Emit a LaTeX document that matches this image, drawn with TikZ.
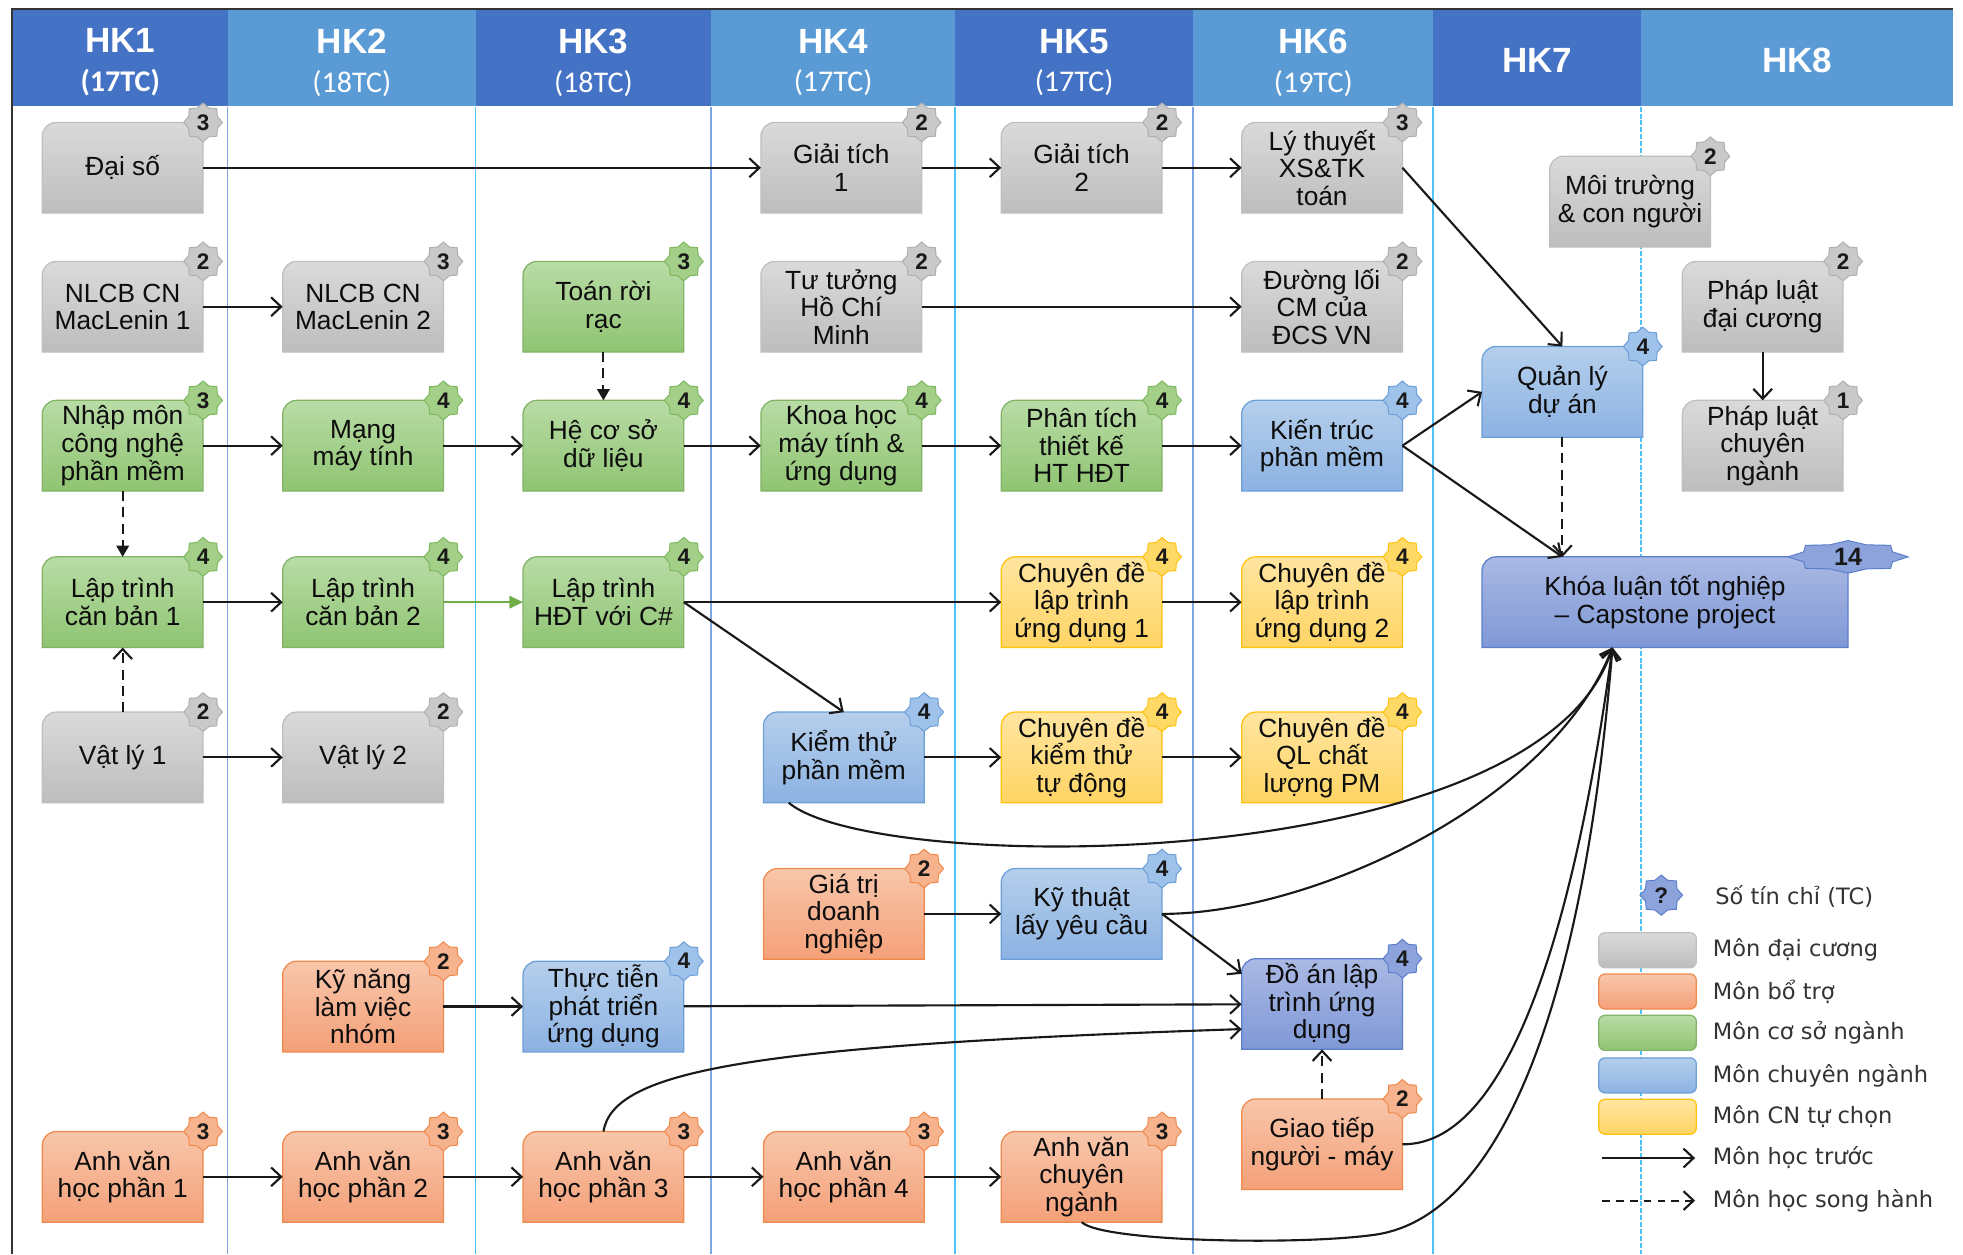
\documentclass[tikz,border=0pt]{standalone}
\usepackage{fontspec}
\setmainfont{Liberation Sans}
\newfontfamily\legfont{DejaVu Sans}
\newfontfamily\calfont{Carlito}
\usetikzlibrary{arrows.meta,calc}
\pgfdeclarelayer{bg}
\pgfsetlayers{bg,main}

\definecolor{hdark}{HTML}{4472C4}
\definecolor{hlight}{HTML}{5B9BD5}
\definecolor{lnblue}{HTML}{7EA6E0}
\definecolor{lncyan}{HTML}{4FC3F7}
\definecolor{gtop}{HTML}{DADADA}\definecolor{gbot}{HTML}{BDBDBD}\definecolor{gline}{HTML}{BFBFBF}
\definecolor{ntop}{HTML}{B9DCA6}\definecolor{nbot}{HTML}{8FC472}\definecolor{nline}{HTML}{82B366}
\definecolor{btop}{HTML}{B5CFEC}\definecolor{bbot}{HTML}{8CB2E2}\definecolor{bline}{HTML}{6C9FD8}
\definecolor{ytop}{HTML}{FFE5A0}\definecolor{ybot}{HTML}{FFD464}\definecolor{yline}{HTML}{FFC20E}
\definecolor{otop}{HTML}{F8C6AB}\definecolor{obot}{HTML}{F4A078}\definecolor{oline}{HTML}{EF8A4C}
\definecolor{ptop}{HTML}{AAB9E4}\definecolor{pbot}{HTML}{7F98D6}\definecolor{pline}{HTML}{5B7FCB}
\definecolor{gbad}{HTML}{C9C9C9}\definecolor{gbadl}{HTML}{B0B0B0}
\definecolor{nbad}{HTML}{A3CF88}\definecolor{nbadl}{HTML}{7DB85E}
\definecolor{bbad}{HTML}{9EC2EA}\definecolor{bbadl}{HTML}{6C9FD8}
\definecolor{ybad}{HTML}{FFD966}\definecolor{ybadl}{HTML}{FFC20E}
\definecolor{obad}{HTML}{F6B38E}\definecolor{obadl}{HTML}{EF8A4C}
\definecolor{pbad}{HTML}{8DA3DC}\definecolor{pbadl}{HTML}{5B7FCB}
\definecolor{greenarrow}{HTML}{70AD47}

\tikzset{
 course/.style={minimum width=128pt, minimum height=72pt, inner sep=0pt, align=center, text=black!95, font=\fontsize{21}{22}\selectfont},
 fgray/.style={top color=gtop, bottom color=gbot, draw=gline, line width=1pt},
 fgreen/.style={top color=ntop, bottom color=nbot, draw=nline, line width=1pt},
 fblue/.style={top color=btop, bottom color=bbot, draw=bline, line width=1pt},
 fyellow/.style={top color=ytop, bottom color=ybot, draw=yline, line width=1pt},
 forange/.style={top color=otop, bottom color=obot, draw=oline, line width=1pt},
 fpurple/.style={top color=ptop, bottom color=pbot, draw=pline, line width=1pt},
 bgray/.style={fill=gbad, draw=gbadl, line width=0.8pt},
 bgreen/.style={fill=nbad, draw=nbadl, line width=0.8pt},
 bblue/.style={fill=bbad, draw=bbadl, line width=0.8pt},
 byellow/.style={fill=ybad, draw=ybadl, line width=0.8pt},
 borange/.style={fill=obad, draw=obadl, line width=0.8pt},
 bpurple/.style={fill=pbad, draw=pbadl, line width=0.8pt},
 badgetext/.style={inner sep=0pt, font=\fontsize{18}{18}\selectfont\bfseries, text=black!90},
 hdr/.style={minimum height=77pt, inner sep=0pt, align=center, text=white, font=\fontsize{24}{31}\selectfont},
 prereq/.style={draw=black!90, line width=1.7pt, -{Straight Barb[length=8pt,width=15pt]}},
 coreq/.style={prereq, dash pattern=on 8pt off 5pt},
 coreqf/.style={draw=black!90, line width=1.7pt, dash pattern=on 8pt off 5pt, -{Triangle[length=9pt,width=10pt]}},
 greenpre/.style={draw=greenarrow, line width=1.5pt, -{Triangle[length=11pt,width=10pt]}},
 colline/.style={line width=1.2pt},
 legbox/.style={minimum width=78pt, minimum height=28pt, inner sep=0pt, rounded corners=5pt},
 legtext/.style={anchor=west, inner sep=0pt, font=\legfont\fontsize{18}{20}\selectfont, text=black!80},
}

\newcommand\hkA[1]{{\fontsize{28}{30}\selectfont\bfseries #1}}
\newcommand\hkB[1]{{\calfont #1}}

\newcommand\cshape[2]{\path[#2] (#1.south west) -- ([yshift=-11pt]#1.north west) .. controls ([yshift=-5pt]#1.north west) and ([xshift=5pt]#1.north west) .. ([xshift=11pt]#1.north west) -- (#1.north east) -- (#1.south east) -- cycle;}

\newcommand\starbadge[6]{%
 \path[#5, shift={(#2)}] (#3,0) \foreach \k in {1,...,15}{ -- ({cos(22.5*\k)*(1-0.2*mod(\k,2))*#3},{sin(22.5*\k)*(1-0.2*mod(\k,2))*#4}) } -- cycle;
 \node[badgetext] (#1) at (#2) {#6};}

\newcommand\course[6]{%
 \node[course] (#1) at (#2,#3) {#6};
 \begin{pgfonlayer}{bg}\cshape{#1}{f#4}\end{pgfonlayer}
 \starbadge{#1b}{#1.north east}{15.5}{15.5}{b#4}{#5}}

\begin{document}
\begin{tikzpicture}[x=1pt,y=-1pt]
\useasboundingbox (0,0) rectangle (1568,1002);
\coordinate (bot) at (0,1002);

% header
\begin{pgfonlayer}{bg}
\node[hdr, fill=hdark, minimum width=172pt] (h1) at (96,46.5) {};
\node[hdr, fill=hlight, minimum width=198pt] (h2) at (281,46.5) {};
\node[hdr, fill=hdark, minimum width=188pt] (h3) at (474,46.5) {};
\node[hdr, fill=hlight, minimum width=195pt] (h4) at (665.5,46.5) {};
\node[hdr, fill=hdark, minimum width=190pt] (h5) at (858,46.5) {};
\node[hdr, fill=hlight, minimum width=192pt] (h6) at (1049,46.5) {};
\node[hdr, fill=hdark, minimum width=166pt] (h7) at (1228,46.5) {};
\node[hdr, fill=hlight, minimum width=249pt] (h8) at (1435.5,46.5) {};
\foreach \h/\c in {h2/lnblue, h3/lncyan, h4/lnblue, h5/lncyan, h6/lnblue, h7/lncyan}
  \draw[colline, \c] (\h.south west) -- (\h.south west |- bot);
\draw[colline, lncyan, dash pattern=on 4pt off 1.5pt] (h8.south west) -- (h8.south west |- bot);
\draw[line width=1.6pt, black!80] (h1.south west |- bot) -- ([yshift=1pt]h1.north west) -- ([yshift=1pt]h8.north east);
\end{pgfonlayer}
\node[hdr] (t1) at (96,50) {\hkA{HK1}\\\hkB{\bfseries (17TC)}};
\node[hdr] (t2) at (281,50) {\hkA{HK2}\\\hkB{(18TC)}};
\node[hdr] (t3) at (474,50) {\hkA{HK3}\\\hkB{(18TC)}};
\node[hdr] (t4) at (665.5,50) {\hkA{HK4}\\\hkB{(17TC)}};
\node[hdr] (t5) at (858,50) {\hkA{HK5}\\\hkB{(17TC)}};
\node[hdr] (t6) at (1049,50) {\hkA{HK6}\\\hkB{(19TC)}};
\node[hdr] (t7) at (1228,48) {\hkA{HK7}};
\node[hdr] (t8) at (1435.5,48) {\hkA{HK8}};

% courses
\course{ds}{98}{134}{gray}{3}{Đại số}
\course{gtich1}{672}{134}{gray}{2}{Giải tích\\1}
\course{gtich2}{864}{134}{gray}{2}{Giải tích\\2}
\course{lyt}{1056}{134}{gray}{3}{Lý thuyết\\XS\&TK\\toán}
\course{mtcn}{1302}{161}{gray}{2}{Môi trường\\\& con người}
\course{nl1}{98}{245}{gray}{2}{NLCB CN\\MacLenin 1}
\course{nl2}{290}{245}{gray}{3}{NLCB CN\\MacLenin 2}
\course{trr}{482}{245}{green}{3}{Toán rời\\rạc}
\course{hcm}{672}{245}{gray}{2}{Tư tưởng\\Hồ Chí\\Minh}
\course{dl}{1056}{245}{gray}{2}{Đường lối\\CM của\\ĐCS VN}
\course{pldc}{1408}{245}{gray}{2}{Pháp luật\\đại cương}
\course{nm}{98}{356}{green}{3}{Nhập môn\\công nghệ\\phần mềm}
\course{mmt}{290}{356}{green}{4}{Mạng\\máy tính}
\course{csdl}{482}{356}{green}{4}{Hệ cơ sở\\dữ liệu}
\course{khmt}{672}{356}{green}{4}{Khoa học\\máy tính \&\\ứng dụng}
\course{pttk}{864}{356}{green}{4}{Phân tích\\thiết kế\\HT HĐT}
\course{ktpm}{1056}{356}{blue}{4}{Kiến trúc\\phần mềm}
\course{qlda}{1248}{313}{blue}{4}{Quản lý\\dự án}
\course{plcn}{1408}{356}{gray}{1}{Pháp luật\\chuyên\\ngành}
\course{lcb1}{98}{481}{green}{4}{Lập trình\\căn bản 1}
\course{lcb2}{290}{481}{green}{4}{Lập trình\\căn bản 2}
\course{hdt}{482}{481}{green}{4}{Lập trình\\HĐT với C\#}
\course{cd1}{864}{481}{yellow}{4}{Chuyên đề\\lập trình\\ứng dụng 1}
\course{cd2}{1056}{481}{yellow}{4}{Chuyên đề\\lập trình\\ứng dụng 2}
\course{vl1}{98}{605}{gray}{2}{Vật lý 1}
\course{vl2}{290}{605}{gray}{2}{Vật lý 2}
\course{kt}{674}{605}{blue}{4}{Kiểm thử\\phần mềm}
\course{cdkt}{864}{605}{yellow}{4}{Chuyên đề\\kiểm thử\\tự động}
\course{cdql}{1056}{605}{yellow}{4}{Chuyên đề\\QL chất\\lượng PM}
\course{gtdn}{674}{730}{orange}{2}{Giá trị\\doanh\\nghiệp}
\course{ktyc}{864}{730}{blue}{4}{Kỹ thuật\\lấy yêu cầu}
\course{knlv}{290}{804}{orange}{2}{Kỹ năng\\làm việc\\nhóm}
\course{tt}{482}{804}{blue}{4}{Thực tiễn\\phát triển\\ứng dụng}
\course{da}{1056}{802}{purple}{4}{Đồ án lập\\trình ứng\\dụng}
\course{gtnm}{1056}{914}{orange}{2}{Giao tiếp\\người - máy}
\course{av1}{98}{940}{orange}{3}{Anh văn\\học phần 1}
\course{av2}{290}{940}{orange}{3}{Anh văn\\học phần 2}
\course{av3}{482}{940}{orange}{3}{Anh văn\\học phần 3}
\course{av4}{674}{940}{orange}{3}{Anh văn\\học phần 4}
\course{avcn}{864}{940}{orange}{3}{Anh văn\\chuyên\\ngành}

% capstone
\node[course, minimum width=292pt] (kl) at (1330,481) {Khóa luận tốt nghiệp\\– Capstone project};
\begin{pgfonlayer}{bg}\cshape{kl}{fpurple}\end{pgfonlayer}
\starbadge{klb}{kl.north east}{48}{13}{bpurple}{\fontsize{20}{20}\selectfont 14}
\coordinate (klTop) at ([xshift=-82pt]kl.north);
\coordinate (klIn) at ([xshift=-42pt]kl.south);

% straight prerequisites
\foreach \a/\b in {ds/gtich1, gtich1/gtich2, gtich2/lyt, nl1/nl2, hcm/dl, nm/mmt, mmt/csdl, csdl/khmt, khmt/pttk, pttk/ktpm, lcb1/lcb2, hdt/cd1, cd1/cd2, vl1/vl2, kt/cdkt, cdkt/cdql, gtdn/ktyc, knlv/tt, tt/da, av1/av2, av2/av3, av3/av4, av4/avcn, pldc/plcn}
  \draw[prereq] (\a) -- (\b);
\draw[prereq] (lyt.east) -- (qlda.north);
\draw[prereq] (ktpm.east) -- (qlda.west);
\draw[prereq] (ktpm.east) -- (klTop);
\draw[prereq] (hdt.east) -- (kt.north);
\draw[prereq] (ktyc.east) -- ([yshift=-12pt]da.north west);
\draw[greenpre] (lcb2) -- (hdt);

% co-requisites
\draw[coreqf] (trr) -- (csdl);
\draw[coreqf] (nm) -- (lcb1);
\draw[coreq] (vl1) -- (lcb1);
\draw[coreq] (qlda.south) -- (klTop);
\draw[coreq] (gtnm) -- (da);

% curves
\coordinate (avw) at (1100,986);
\draw[prereq] ([xshift=-44pt]kt.south) .. controls (700,700) and (1230,700) .. (klIn);
\draw[prereq] (ktyc.east) .. controls (1050,730) and (1240,640) .. (klIn);
\draw[prereq] (gtnm.east) .. controls (1200,915) and (1255,760) .. (klIn);
\draw[prereq] (avcn.south) .. controls (880,992) and (1040,995) .. (avw) .. controls (1200,970) and (1265,800) .. (klIn);
\draw[prereq] (av3.north) .. controls (490,855) and (600,835) .. ([yshift=-20pt]da.west);

% legend
\starbadge{lgq}{1327,715}{17}{16}{bpurple}{?}
\node[legtext] (lt0) at (1370,716) {Số tín chỉ (TC)};
\node[legbox, fgray] (lg1) at (1316,759) {};
\node[legbox, forange] (lg2) at (1316,792) {};
\node[legbox, fgreen] (lg3) at (1316,825) {};
\node[legbox, fblue] (lg4) at (1316,859) {};
\node[legbox, fyellow] (lg5) at (1316,892) {};
\node[legtext] (lt1) at (1368,759) {Môn đại cương};
\node[legtext] (lt2) at (1368,792) {Môn bổ trợ};
\node[legtext] (lt3) at (1368,825) {Môn cơ sở ngành};
\node[legtext] (lt4) at (1368,859) {Môn chuyên ngành};
\node[legtext] (lt5) at (1368,892) {Môn CN tự chọn};
\node[legtext] (lt6) at (1368,925) {Môn học trước};
\node[legtext] (lt7) at (1368,959) {Môn học song hành};
\coordinate (la1s) at (1280,925); \coordinate (la1e) at (1354,925);
\coordinate (la2s) at (1280,959); \coordinate (la2e) at (1354,959);
\draw[prereq] (la1s) -- (la1e);
\draw[coreq, dash pattern=on 6pt off 5pt] (la2s) -- (la2e);
\end{tikzpicture}
\end{document}
